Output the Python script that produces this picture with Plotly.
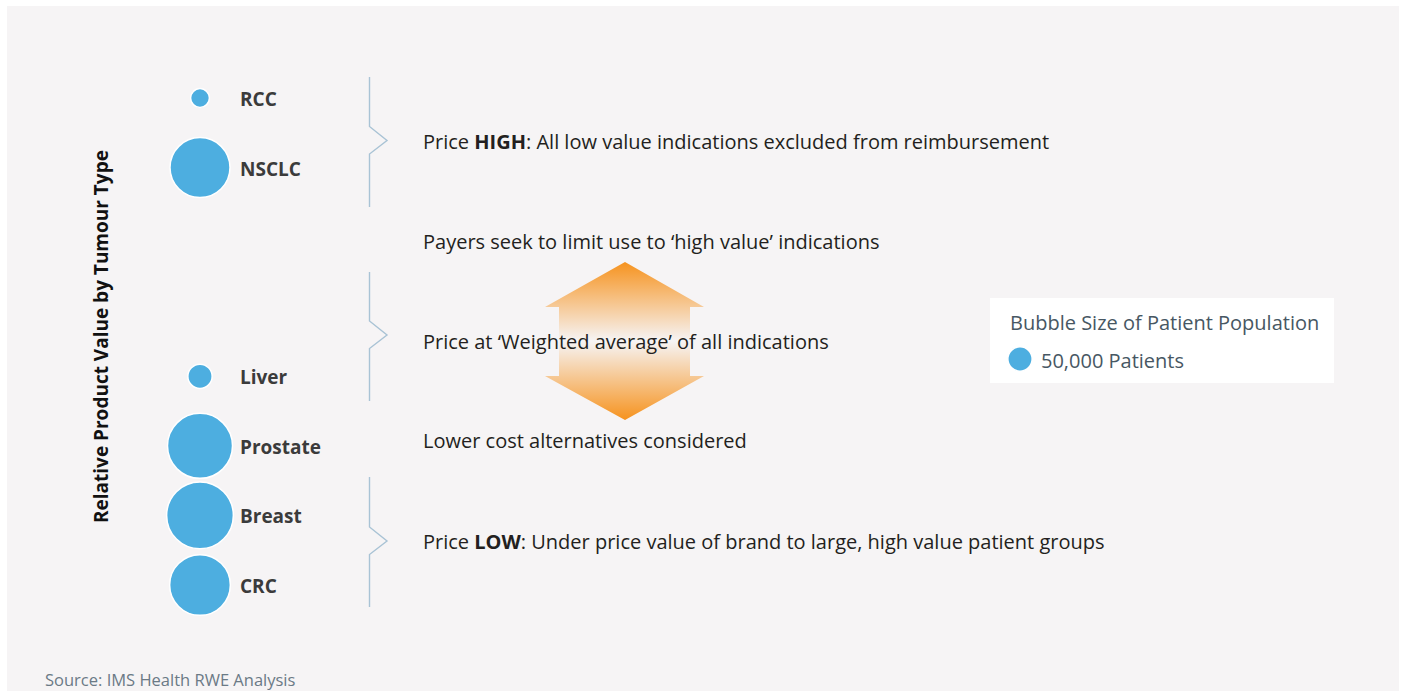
import plotly.graph_objects as go

# ---- data ----
tumours = ["RCC", "NSCLC", "Liver", "Prostate", "Breast", "CRC"]
relative_value = [8, 7, 4, 3, 2, 1]          # rank on the value axis
patients = [30000, 305000, 50000, 358000, 377000, 312000]
legend_patients = [50000]
legend_label = "50,000 Patients"
legend_title = "Bubble Size of Patient Population"
y_title = "Relative Product Value by Tumour Type"
callouts = [
    "Price <b>HIGH</b>: All low value indications excluded from reimbursement",
    "Payers seek to limit use to \u2018high value\u2019 indications",
    "Price at \u2018Weighted average\u2019 of all indications",
    "Lower cost alternatives considered",
    "Price <b>LOW</b>: Under price value of brand to large, high value patient groups",
]
source = "Source: IMS Health RWE Analysis"

W, H = 1403, 691
FONT = "Open Sans"
BUBBLE = "#4daee0"
BRACE = "#a9c3d5"
ORANGE = "#f6931f"

sizeref = 2 * 50000 / (24.3 ** 2)

fig = go.Figure()

# bubbles
fig.add_trace(go.Scatter(
    x=[200] * len(tumours), y=relative_value, mode="markers",
    marker=dict(size=patients, sizemode="area", sizeref=sizeref,
                color=BUBBLE, line=dict(color="white", width=1.5), opacity=1),
    hoverinfo="text", text=tumours, showlegend=False, xaxis="x", yaxis="y",
))

# gradient double arrow (pixel axes)
ax = [625, 704, 690, 690, 704, 625, 545, 559, 559, 545, 625]
ay = [262, 307, 307, 376, 376, 420, 376, 376, 307, 307, 262]
fig.add_trace(go.Scatter(
    x=ax, y=ay, mode="lines", fill="toself", line=dict(width=0, color="rgba(0,0,0,0)"),
    fillgradient=dict(type="vertical",
                      colorscale=[[0, ORANGE], [0.5, "rgba(246,244,245,1)"], [1, ORANGE]]),
    hoverinfo="skip", showlegend=False, xaxis="x2", yaxis="y2",
))

# legend bubble
fig.add_trace(go.Scatter(
    x=[1020], y=[359], mode="markers",
    marker=dict(size=legend_patients, sizemode="area", sizeref=sizeref,
                color=BUBBLE, line=dict(color="white", width=1.5), opacity=1),
    hoverinfo="skip", showlegend=False, xaxis="x2", yaxis="y2",
))

shapes = []
# panel background
shapes.append(dict(type="rect", xref="x2", yref="y2", x0=7, x1=1399, y0=6, y1=691,
                   fillcolor="#f6f4f5", line=dict(width=0), layer="below"))
# legend box
shapes.append(dict(type="rect", xref="x2", yref="y2", x0=990, x1=1334, y0=298, y1=383,
                   fillcolor="white", line=dict(width=0), layer="below"))
# braces
for top, mid, bot in [(77, 140.5, 207), (272, 335, 401), (477, 541, 607)]:
    path = (f"M369.5,{top} L369.5,{mid-14} L387,{mid} L369.5,{mid+13.5} L369.5,{bot}")
    shapes.append(dict(type="path", xref="x2", yref="y2", path=path,
                       line=dict(color=BRACE, width=1.4)))

annotations = []
# bubble labels
for name, v in zip(tumours, relative_value):
    annotations.append(dict(xref="x", yref="y", x=238, y=v, text=f"<b>{name}</b>",
                            showarrow=False, xanchor="left", yanchor="middle", yshift=-1,
                            font=dict(family=FONT, size=19, color="#3b3b3b")))
for txt, yy in zip(callouts, [141, 241, 341, 440, 541]):
    annotations.append(dict(xref="x2", yref="y2", x=421, y=yy, text=txt, showarrow=False,
                            xanchor="left", yanchor="middle",
                            font=dict(family=FONT, size=20, color="#231f20")))
annotations.append(dict(xref="x2", yref="y2", x=101, y=337, text=f"<b>{y_title}</b>",
                        textangle=-90, showarrow=False, xanchor="center", yanchor="middle",
                        font=dict(family=FONT, size=19, color="#111111")))
annotations.append(dict(xref="x2", yref="y2", x=1008, y=322, text=legend_title,
                        showarrow=False, xanchor="left", yanchor="middle",
                        font=dict(family=FONT, size=20, color="#475763")))
annotations.append(dict(xref="x2", yref="y2", x=1039, y=360, text=legend_label,
                        showarrow=False, xanchor="left", yanchor="middle",
                        font=dict(family=FONT, size=20, color="#475763")))
annotations.append(dict(xref="x2", yref="y2", x=43, y=679, text=source,
                        showarrow=False, xanchor="left", yanchor="middle",
                        font=dict(family=FONT, size=16.5, color="#6b7a86")))

# value-axis range so that rank 1 sits at y=585px and rank 8 at y=98px
step = (585 - 98) / 7
y0 = 1 - (H - 585) / step
y1 = 8 + 98 / step

fig.update_layout(
    width=W, height=H, margin=dict(l=0, r=0, t=0, b=0),
    paper_bgcolor="white", plot_bgcolor="rgba(0,0,0,0)",
    xaxis=dict(range=[0, W], visible=False, fixedrange=True),
    yaxis=dict(range=[y0, y1], visible=False, fixedrange=True),
    xaxis2=dict(range=[0, W], visible=False, overlaying="x", fixedrange=True),
    yaxis2=dict(range=[H, 0], visible=False, overlaying="y", fixedrange=True),
    shapes=shapes, annotations=annotations, showlegend=False,
)

fig.write_html("out.html", config={"displayModeBar": False},
               post_script="document.body.style.margin='0px';")
